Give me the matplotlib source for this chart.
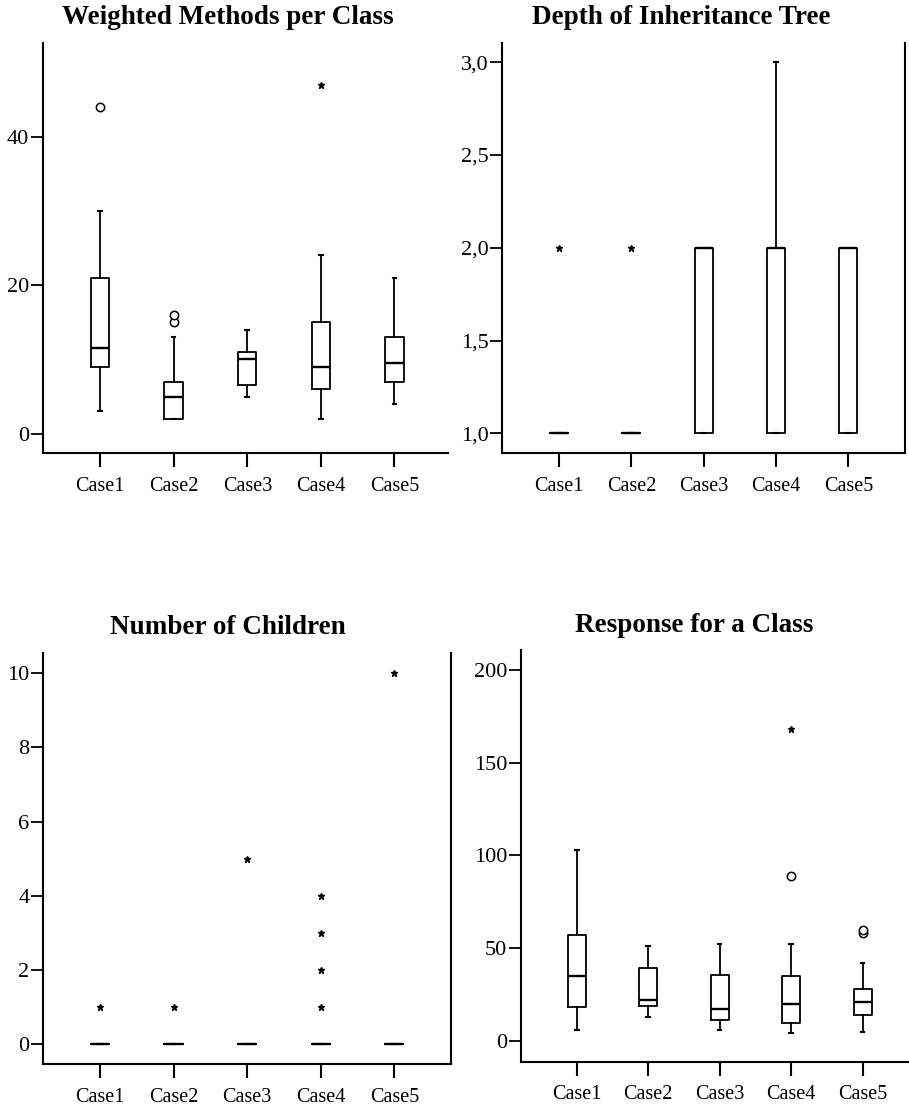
import matplotlib
matplotlib.use("Agg")
import matplotlib.pyplot as plt
from matplotlib.ticker import FixedLocator, FixedFormatter

plt.rcParams['font.family'] = ['Liberation Serif', 'DejaVu Serif']

categories = ["Case1", "Case2", "Case3", "Case4", "Case5"]

# Weighted Methods per Class
wmc_lo  = [3, 2, 5, 2, 4]
wmc_q1  = [9, 2, 6.5, 6, 7]
wmc_med = [11.5, 5, 10, 9, 9.5]
wmc_q3  = [21, 7, 11, 15, 13]
wmc_hi  = [30, 13, 14, 24, 21]
wmc_circ = [[44], [15, 16], [], [], []]
wmc_star = [[], [], [], [47], []]
wmc_ticks = [0, 20, 40]
wmc_labels = ["0", "20", "40"]

# Depth of Inheritance Tree
dit_lo  = [1, 1, 1, 1, 1]
dit_q1  = [1, 1, 1, 1, 1]
dit_med = [1, 1, 2, 2, 2]
dit_q3  = [1, 1, 2, 2, 2]
dit_hi  = [1, 1, 2, 3, 2]
dit_circ = [[], [], [], [], []]
dit_star = [[2], [2], [], [], []]
dit_ticks = [1.0, 1.5, 2.0, 2.5, 3.0]
dit_labels = ["1,0", "1,5", "2,0", "2,5", "3,0"]

# Number of Children
noc_lo  = [0, 0, 0, 0, 0]
noc_q1  = [0, 0, 0, 0, 0]
noc_med = [0, 0, 0, 0, 0]
noc_q3  = [0, 0, 0, 0, 0]
noc_hi  = [0, 0, 0, 0, 0]
noc_circ = [[], [], [], [], []]
noc_star = [[1], [1], [5], [1, 2, 3, 4], [10]]
noc_ticks = [0, 2, 4, 6, 8, 10]
noc_labels = ["0", "2", "4", "6", "8", "10"]

# Response for a Class
rfc_lo  = [6, 13, 6, 4, 5]
rfc_q1  = [18, 19, 11, 9.5, 14]
rfc_med = [35, 22, 17, 20, 21]
rfc_q3  = [57, 39, 35.5, 35, 28]
rfc_hi  = [103, 51, 52, 52, 42]
rfc_circ = [[], [], [], [89], [58, 60]]
rfc_star = [[], [], [], [168], []]
rfc_ticks = [0, 50, 100, 150, 200]
rfc_labels = ["0", "50", "100", "150", "200"]

fig = plt.figure(figsize=(9.09, 11.10), dpi=100)

panels = [
    dict(rect=[0.0473, 0.5919, 0.4450, 0.3694], xlim=(0.225, 5.72), ylim=(-2.6, 52.6),
         lo=wmc_lo, q1=wmc_q1, med=wmc_med, q3=wmc_q3, hi=wmc_hi, circ=wmc_circ, star=wmc_star,
         ticks=wmc_ticks, labels=wmc_labels, title="Weighted Methods per Class",
         tpos=(228/909, 1-18/1110), right=False),
    dict(rect=[0.5526, 0.5919, 0.4430, 0.3694], xlim=(0.216, 5.784), ylim=(0.894, 3.104),
         lo=dit_lo, q1=dit_q1, med=dit_med, q3=dit_q3, hi=dit_hi, circ=dit_circ, star=dit_star,
         ticks=dit_ticks, labels=dit_labels, title="Depth of Inheritance Tree",
         tpos=(681/909, 1-18/1110), right=True),
    dict(rect=[0.0476, 0.0412, 0.4485, 0.3703], xlim=(0.229, 5.77), ylim=(-0.55, 10.54),
         lo=noc_lo, q1=noc_q1, med=noc_med, q3=noc_q3, hi=noc_hi, circ=noc_circ, star=noc_star,
         ticks=noc_ticks, labels=noc_labels, title="Number of Children",
         tpos=(227.5/909, 1-628/1110), right=True),
    dict(rect=[0.5732, 0.0435, 0.4257, 0.3709], xlim=(0.221, 5.634), ylim=(-11.3, 210.8),
         lo=rfc_lo, q1=rfc_q1, med=rfc_med, q3=rfc_q3, hi=rfc_hi, circ=rfc_circ, star=rfc_star,
         ticks=rfc_ticks, labels=rfc_labels, title="Response for a Class",
         tpos=(694.5/909, 1-625/1110), right=False),
]

positions = [1, 2, 3, 4, 5]

for p in panels:
    ax = fig.add_axes(p["rect"])
    stats = []
    for i in range(5):
        stats.append(dict(whislo=p["lo"][i], q1=p["q1"][i], med=p["med"][i],
                          q3=p["q3"][i], whishi=p["hi"][i], fliers=[]))
    ax.bxp(stats, positions=positions, widths=0.25, capwidths=0.05,
           showfliers=False, patch_artist=False,
           boxprops=dict(color="black", linewidth=1.3),
           whiskerprops=dict(color="black", linewidth=1.3),
           capprops=dict(color="black", linewidth=1.5),
           medianprops=dict(color="black", linewidth=1.7))
    for i in range(5):
        if p["circ"][i]:
            ax.plot([positions[i]] * len(p["circ"][i]), p["circ"][i], linestyle="none",
                    marker="o", markersize=6, markerfacecolor="white",
                    markeredgecolor="black", markeredgewidth=1.1)
        if p["star"][i]:
            ax.plot([positions[i]] * len(p["star"][i]), p["star"][i], linestyle="none",
                    marker="*", markersize=5, color="black")
    ax.set_xlim(*p["xlim"])
    ax.set_ylim(*p["ylim"])
    ax.xaxis.set_major_locator(FixedLocator(positions))
    ax.xaxis.set_major_formatter(FixedFormatter(categories))
    ax.yaxis.set_major_locator(FixedLocator(p["ticks"]))
    ax.yaxis.set_major_formatter(FixedFormatter(p["labels"]))
    ax.spines["top"].set_visible(False)
    ax.spines["right"].set_visible(p["right"])
    for s in ["left", "bottom", "right"]:
        ax.spines[s].set_linewidth(1.5)
        ax.spines[s].set_color("black")
    ax.tick_params(axis="x", direction="out", length=10, width=1.5, pad=7,
                   labelsize=14.5, colors="black")
    ax.tick_params(axis="y", direction="out", length=9, width=1.3, pad=1,
                   labelsize=16, colors="black")
    ax.patch.set_alpha(0)
    fig.text(p["tpos"][0], p["tpos"][1], p["title"], ha="center", va="center",
             fontsize=19.5, fontweight="bold")

fig.savefig("out.png", dpi=100, facecolor="white")
